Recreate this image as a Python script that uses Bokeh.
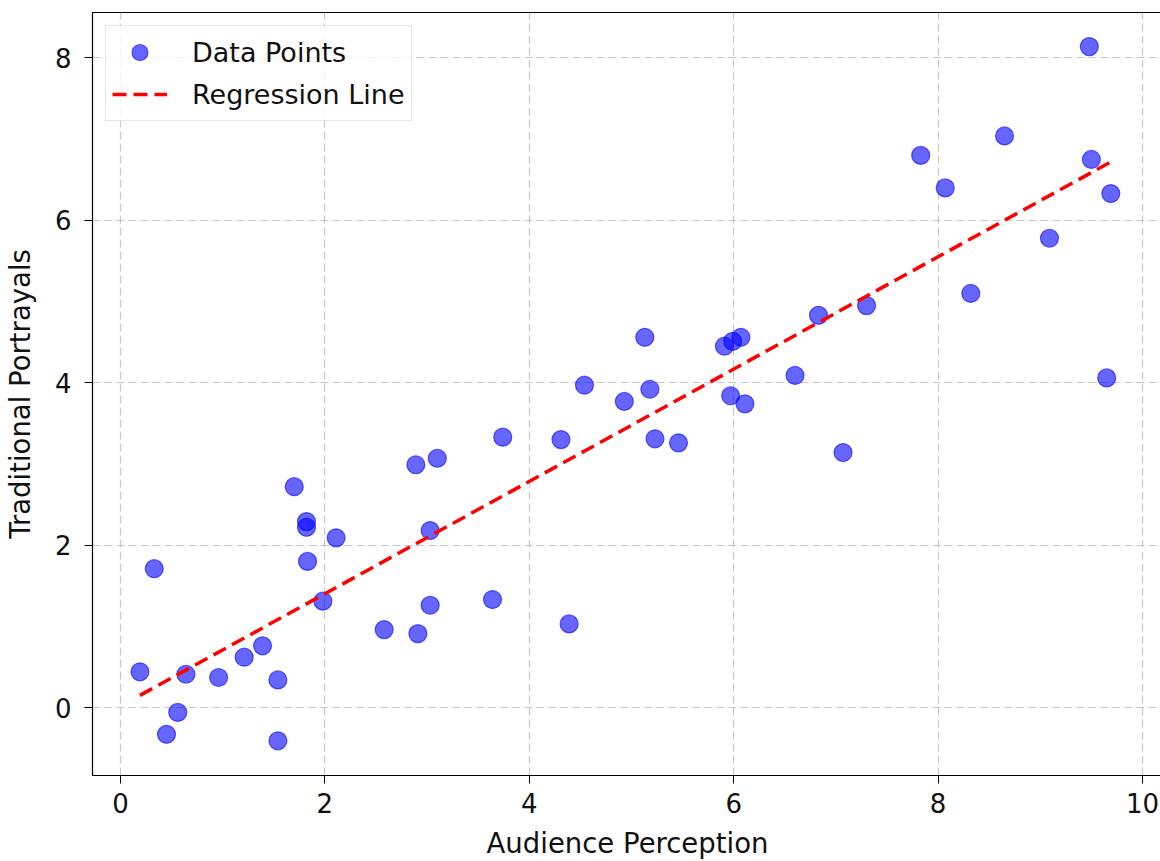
from bokeh.plotting import figure
from bokeh.models import Range1d, FixedTicker, Legend, LegendItem
from bokeh.embed import file_html
from bokeh.resources import INLINE

# Data
audience_perception = [
    0.19, 0.33, 0.45, 0.56, 0.64, 0.96, 1.21, 1.39, 1.54, 1.54,
    1.70, 1.82, 1.82, 1.83, 2.11, 1.98, 2.58, 2.89, 2.91, 3.03,
    3.03, 3.10, 3.64, 3.74, 4.31, 4.39, 4.54, 4.93, 5.13, 5.18,
    5.23, 5.46, 5.91, 5.99, 6.07, 5.97, 6.11, 6.60, 6.83, 7.07,
    7.30, 7.83, 8.07, 8.32, 8.65, 9.09, 9.48, 9.50, 9.65, 9.69,
]
traditional_portrayals = [
    0.44, 1.71, -0.33, -0.06, 0.41, 0.37, 0.62, 0.76, 0.34, -0.41,
    2.72, 2.29, 2.22, 1.80, 2.09, 1.31, 0.96, 2.99, 0.91, 2.18,
    1.26, 3.07, 1.33, 3.33, 3.30, 1.03, 3.97, 3.77, 4.56, 3.92,
    3.31, 3.26, 4.45, 4.51, 4.56, 3.84, 3.74, 4.09, 4.83, 3.14,
    4.95, 6.80, 6.40, 5.10, 7.04, 5.78, 8.14, 6.75, 4.06, 6.33,
]
regression_x = [0.19, 9.69]
regression_y = [0.15, 6.72]
x_ticks = [0, 2, 4, 6, 8, 10]
y_ticks = [0, 2, 4, 6, 8]

FONT = "DejaVu Sans"

p = figure(
    frame_width=1070, frame_height=763,
    min_border_left=90, min_border_top=12, min_border_right=0, min_border_bottom=0,
    x_range=Range1d(-0.274, 10.196), y_range=Range1d(-0.837, 8.56),
    output_backend="svg", toolbar_location=None,
)

p.outline_line_color = "black"
p.outline_line_alpha = 1
p.outline_line_width = 1.2

for ax in (p.xaxis[0], p.yaxis[0]):
    ax.axis_line_color = "black"
    ax.major_tick_line_color = "black"
    ax.major_tick_out = 8
    ax.major_tick_in = 0
    ax.minor_tick_line_color = None
    ax.major_label_text_font = FONT
    ax.major_label_text_font_size = "26px"
    ax.major_label_text_color = "#111111"
    ax.axis_label_text_font = FONT
    ax.axis_label_text_font_size = "27.5px"
    ax.axis_label_text_font_style = "normal"
    ax.axis_label_text_color = "#111111"

p.xaxis.ticker = FixedTicker(ticks=x_ticks)
p.yaxis.ticker = FixedTicker(ticks=y_ticks)
p.xaxis.axis_label = "Audience Perception"
p.yaxis.axis_label = "Traditional Portrayals"
p.xaxis.major_label_standoff = 9
p.xaxis.axis_label_standoff = 11
p.yaxis.major_label_standoff = 13
p.yaxis.axis_label_standoff = 16

p.grid.grid_line_color = "#b0b0b0"
p.grid.grid_line_alpha = 0.7
p.grid.grid_line_dash = "8 4"
p.grid.grid_line_width = 1.2

pts = p.scatter(audience_perception, traditional_portrayals, size=18, marker="circle",
                fill_color="blue", fill_alpha=0.6,
                line_color="blue", line_alpha=0.6, line_width=1.2)
reg = p.line(regression_x, regression_y, line_color="red", line_width=3.5, line_dash="14 7")

legend = Legend(items=[
    LegendItem(label="Data Points", renderers=[pts]),
    LegendItem(label="Regression Line", renderers=[reg]),
], location="top_left")
legend.margin = 13
legend.padding = 6
legend.spacing = 2
legend.glyph_width = 55
legend.glyph_height = 40
legend.label_height = 40
legend.label_standoff = 25
legend.label_text_font = FONT
legend.label_text_font_size = "27px"
legend.label_text_color = "#111111"
legend.border_line_color = "#cccccc"
legend.border_line_width = 1.5
legend.background_fill_alpha = 0.8
p.add_layout(legend)

open("out.html", "w").write(file_html(p, INLINE))
